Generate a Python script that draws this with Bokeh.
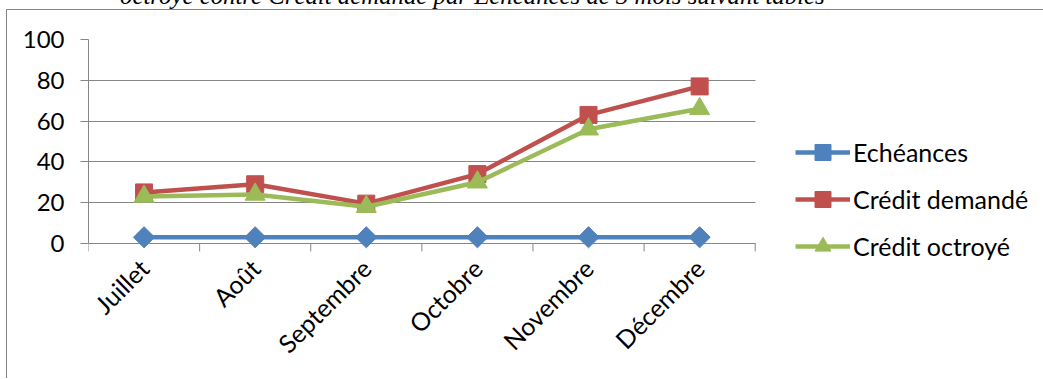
import math
from bokeh.plotting import figure
from bokeh.layouts import column
from bokeh.models import Range1d, FixedTicker, Legend, LegendItem, Div, Grid
from bokeh.embed import file_html
from bokeh.resources import INLINE

# Monthly data
months = ["Juillet", "Août", "Septembre", "Octobre", "Novembre", "Décembre"]
echeances = [3, 3, 3, 3, 3, 3]
credit_demande = [25, 29, 19.5, 34, 63, 77]
credit_octroye = [23, 24, 18, 30, 56, 66]
y_ticks = [0, 20, 40, 60, 80, 100]

title_text = "octroyé contre Crédit demandé par Echéances de 3 mois suivant tables"

BLUE = "#4F81BD"
RED = "#C0504D"
GREEN = "#9BBB59"
GRID = "#868686"
FONT = "Lato"

# geometry: the data area is 666 x 203 px; the frame is widened to the right
# and lowered so the legend can sit inside it
PLOT_W, PLOT_H = 666, 203
FRAME_W, FRAME_H = 955, 230
EXTRA_H = FRAME_H - PLOT_H          # frame space below y = 0, in px
TICK_LEN = 8                        # category tick length, in px
n = len(months)
x_end = n * FRAME_W / PLOT_W
px_per_unit = PLOT_H / 100
y_start = -EXTRA_H / px_per_unit

xs = [i + 0.5 for i in range(n)]

p = figure(frame_width=FRAME_W, frame_height=FRAME_H,
           output_backend="svg", toolbar_location=None,
           x_range=Range1d(0, x_end), y_range=Range1d(y_start, 100),
           min_border_left=81, min_border_right=0,
           min_border_top=29, min_border_bottom=109,
           margin=(0, 0, 0, 6),
           styles={"border-top": "1px solid #868686",
                   "border-left": "1px solid #868686"})
p.outline_line_color = None
p.background_fill_color = "white"
p.border_fill_color = "white"

# y axis
p.yaxis.ticker = FixedTicker(ticks=y_ticks)
p.yaxis.bounds = (0, 100)
p.yaxis.axis_line_color = GRID
p.yaxis.major_tick_line_color = GRID
p.yaxis.major_tick_in = 0
p.yaxis.major_tick_out = 8
p.yaxis.minor_tick_line_color = None
p.yaxis.major_label_text_font = FONT
p.yaxis.major_label_text_font_size = "24px"
p.yaxis.major_label_text_color = "black"
p.yaxis.major_label_standoff = 16

# x axis sits at the frame bottom; its labels are pulled up to the y = 0 line
p.xaxis.ticker = FixedTicker(ticks=xs)
p.xaxis.major_label_overrides = {x: m for x, m in zip(xs, months)}
p.xaxis.axis_line_color = None
p.xaxis.major_tick_line_color = None
p.xaxis.minor_tick_line_color = None
p.xaxis.major_tick_in = 0
p.xaxis.major_tick_out = 0
p.xaxis.major_label_orientation = math.pi / 4
p.xaxis.major_label_text_font = FONT
p.xaxis.major_label_text_font_size = "25px"
p.xaxis.major_label_text_color = "black"
p.xaxis.major_label_standoff = 20 - EXTRA_H

# horizontal lines (including the category axis at 0) limited to the categories
p.xgrid.grid_line_color = None
if "cross_bounds" in Grid.properties():
    p.ygrid.ticker = FixedTicker(ticks=y_ticks)
    p.ygrid.cross_bounds = (0, n)
    p.ygrid.grid_line_color = GRID
    p.ygrid.grid_line_width = 1
else:
    p.ygrid.grid_line_color = None
    p.segment(x0=[0] * len(y_ticks), x1=[n] * len(y_ticks),
              y0=y_ticks, y1=y_ticks, line_color=GRID, line_width=1)

# category boundary ticks below the axis line
bounds_x = list(range(n + 1))
p.segment(x0=bounds_x, x1=bounds_x, y0=[0] * len(bounds_x),
          y1=[-TICK_LEN / px_per_unit] * len(bounds_x),
          line_color=GRID, line_width=1)

# series
l1 = p.line(xs, echeances, line_color=BLUE, line_width=4.5)
m1 = p.scatter(xs, echeances, marker="square", angle=math.pi / 4, size=15,
               fill_color=BLUE, line_color=BLUE)
l2 = p.line(xs, credit_demande, line_color=RED, line_width=4.5)
m2 = p.scatter(xs, credit_demande, marker="square", size=17,
               fill_color=RED, line_color=RED)
l3 = p.line(xs, credit_octroye, line_color=GREEN, line_width=4.5)
m3 = p.scatter(xs, credit_octroye, marker="triangle", size=20,
               fill_color=GREEN, line_color=GREEN)

legend = Legend(items=[
    LegendItem(label="Echéances", renderers=[l1, m1]),
    LegendItem(label="Crédit demandé", renderers=[l2, m2]),
    LegendItem(label="Crédit octroyé", renderers=[l3, m3]),
], location=(707, 4))
legend.border_line_color = None
legend.background_fill_alpha = 0
legend.padding = 0
legend.margin = 0
legend.glyph_width = 55
legend.glyph_height = 40
legend.spacing = 7
legend.label_standoff = 3
legend.label_text_font = FONT
legend.label_text_font_size = "25px"
legend.label_text_color = "black"
p.add_layout(legend)

# caption line above the chart box, partly cut by the top edge
caption = Div(text=title_text, width=900, height=26, margin=(-17, 0, 0, 120),
              styles={"font-family": "Liberation Serif", "font-style": "italic",
                      "font-size": "24.8px", "line-height": "26px",
                      "white-space": "nowrap", "color": "black"})

layout = column(caption, p, spacing=0)

open("out.html", "w").write(file_html(layout, INLINE))
